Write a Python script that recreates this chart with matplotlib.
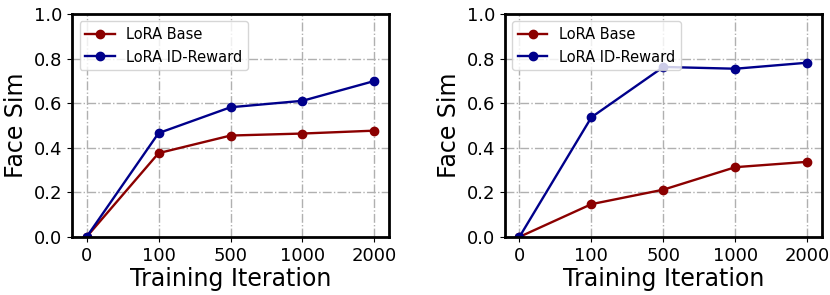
import matplotlib
matplotlib.use("Agg")
import matplotlib.pyplot as plt
import numpy as np

# training iterations (categorical x axis)
iterations = ["0", "100", "500", "1000", "2000"]

# left panel
left_base = [0.0, 0.376, 0.455, 0.464, 0.477]
left_reward = [0.0, 0.466, 0.582, 0.611, 0.700]

# right panel
right_base = [0.0, 0.147, 0.212, 0.313, 0.337]
right_reward = [0.0, 0.537, 0.763, 0.755, 0.782]

panels = [(left_base, left_reward), (right_base, right_reward)]

fig, axes = plt.subplots(1, 2, figsize=(8.3, 2.95), dpi=100)
fig.subplots_adjust(left=0.087, right=0.990, top=0.952, bottom=0.197, wspace=0.367)

x = np.arange(len(iterations))
for ax, (base, reward) in zip(axes, panels):
    ax.plot(x, base, color="#8B0000", marker="o", markersize=6, linewidth=1.7, label="LoRA Base")
    ax.plot(x, reward, color="#00008B", marker="o", markersize=6, linewidth=1.7, label="LoRA ID-Reward")
    ax.set_xticks(x)
    ax.set_xticklabels(iterations)
    ax.set_ylim(0, 1.0)
    ax.set_yticks([0.0, 0.2, 0.4, 0.6, 0.8, 1.0])
    ax.tick_params(labelsize=13)
    ax.set_xlabel("Training Iteration", fontsize=17, labelpad=2)
    ax.set_ylabel("Face Sim", fontsize=17)
    ax.grid(True, linestyle="-.", color="#b0b0b0", linewidth=1.0)
    for s in ax.spines.values():
        s.set_linewidth(2)
    ax.legend(loc="upper left", fontsize=10.5)

fig.savefig("out.png", dpi=100)
